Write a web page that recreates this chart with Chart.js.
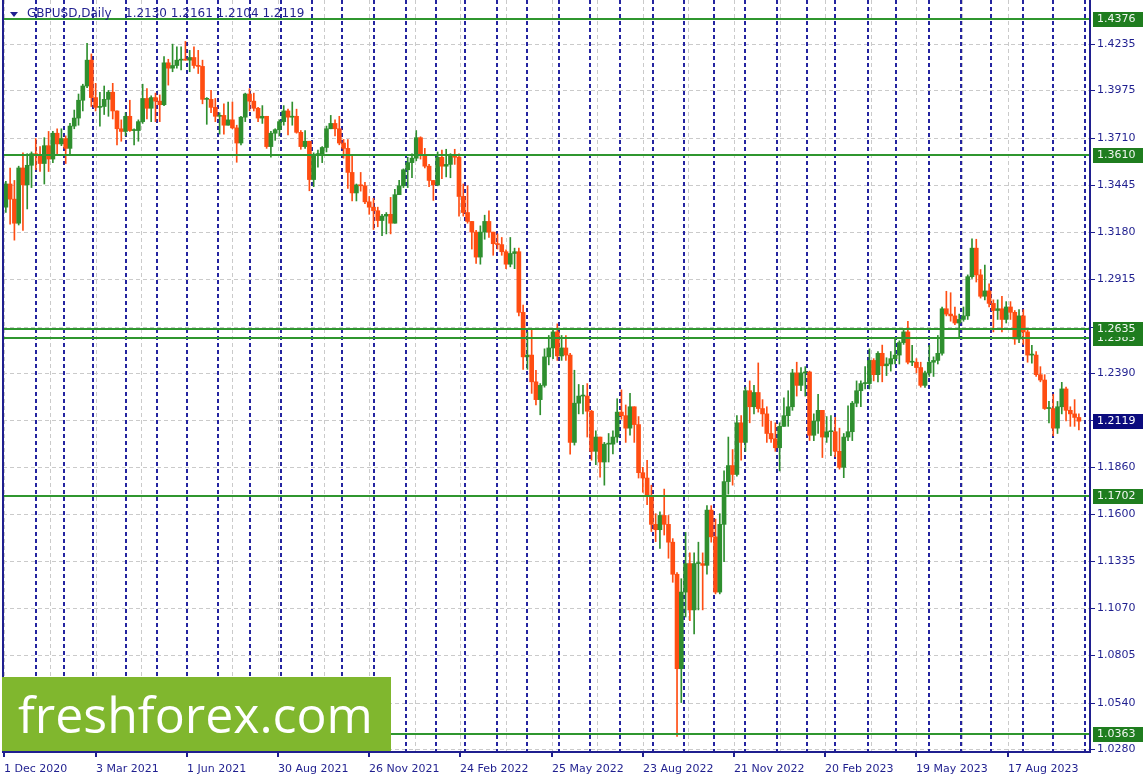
<!DOCTYPE html>
<html><head><meta charset="utf-8">
<script src="https://cdn.jsdelivr.net/npm/chart.js@4.4.0/dist/chart.umd.min.js"></script>
<style>html,body{margin:0;padding:0;background:#fff;overflow:hidden}canvas{display:block}</style>
</head><body>
<canvas id="c" width="1148" height="782"></canvas>
<script>
// ---------- DATA ----------
const symbol = 'GBPUSD', timeframe = 'Daily';
const lastBar = [1.2130, 1.2161, 1.2104, 1.2119];   // O H L C shown in header
const firstOpen = 1.3320;
// each candle = 3 trading days, starting 1 Dec 2020
const closes = [
1.3450,1.3365,1.3230,1.3540,1.3445,1.3555,1.3620,1.3610,1.3565,1.3665,
1.3590,1.3735,1.3675,1.3705,1.3650,1.3775,1.3820,1.3920,1.4000,1.4145,
1.3935,1.3880,1.3885,1.3925,1.3965,1.3860,1.3760,1.3745,1.3830,1.3750,
1.3750,1.3800,1.3930,1.3875,1.3935,1.3915,1.3895,1.4130,1.4100,1.4115,
1.4145,1.4150,1.4145,1.4160,1.4115,1.4110,1.3925,1.3925,1.3880,1.3830,
1.3835,1.3780,1.3810,1.3765,1.3680,1.3825,1.3955,1.3915,1.3875,1.3820,
1.3830,1.3660,1.3735,1.3755,1.3800,1.3860,1.3825,1.3830,1.3740,1.3660,
1.3690,1.3475,1.3615,1.3615,1.3655,1.3760,1.3790,1.3760,1.3680,1.3650,
1.3515,1.3400,1.3445,1.3440,1.3350,1.3320,1.3300,1.3245,1.3270,1.3280,
1.3230,1.3390,1.3440,1.3530,1.3570,1.3595,1.3710,1.3610,1.3550,1.3470,
1.3445,1.3600,1.3550,1.3560,1.3610,1.3600,1.3380,1.3290,1.3240,1.3180,
1.3040,1.3180,1.3240,1.3180,1.3115,1.3110,1.3070,1.3000,1.3060,1.3070,
1.2730,1.2480,1.2490,1.2340,1.2240,1.2320,1.2480,1.2530,1.2620,1.2485,
1.2530,1.2490,1.2000,1.2220,1.2260,1.2260,1.2175,1.1950,1.2030,1.1890,
1.1990,1.1990,1.2030,1.2170,1.2150,1.2080,1.2200,1.2100,1.1830,1.1800,
1.1700,1.1540,1.1510,1.1590,1.1540,1.1440,1.1260,1.0730,1.1160,1.1320,
1.1060,1.1320,1.1320,1.1310,1.1620,1.1470,1.1160,1.1540,1.1780,1.1870,
1.1820,1.2110,1.2000,1.2290,1.2200,1.2280,1.2190,1.2160,1.2050,1.2020,
1.1970,1.2090,1.2150,1.2200,1.2390,1.2320,1.2390,1.2395,1.2040,1.2120,
1.2180,1.2030,1.2060,1.2060,1.1950,1.1860,1.2030,1.2060,1.2220,1.2290,
1.2330,1.2330,1.2460,1.2380,1.2500,1.2430,1.2440,1.2470,1.2490,1.2560,
1.2620,1.2450,1.2450,1.2420,1.2320,1.2390,1.2450,1.2460,1.2500,1.2750,
1.2720,1.2710,1.2670,1.2690,1.2710,1.2930,1.3090,1.2940,1.2820,1.2850,
1.2780,1.2740,1.2750,1.2690,1.2760,1.2730,1.2580,1.2710,1.2620,1.2490,
1.2490,1.2380,1.2350,1.2190,1.2190,1.2080,1.2200,1.2300,1.2180,1.2160,
1.2140,1.2119];
const highs = [
1.3465,1.3540,1.3470,1.3550,1.3625,1.3620,1.3630,1.3705,1.3660,1.3710,
1.3745,1.3745,1.3760,1.3760,1.3720,1.3790,1.3865,1.3955,1.4010,1.4240,
1.4180,1.4015,1.3965,1.4000,1.3975,1.4015,1.3860,1.3810,1.3850,1.3920,
1.3760,1.3810,1.4010,1.3985,1.3945,1.3960,1.3950,1.4165,1.4150,1.4235,
1.4220,1.4220,1.4250,1.4200,1.4220,1.4200,1.4145,1.3935,1.3975,1.3930,
1.3850,1.3900,1.3910,1.3910,1.3780,1.3830,1.3960,1.3985,1.3960,1.3880,
1.3890,1.3830,1.3745,1.3760,1.3810,1.3890,1.3870,1.3910,1.3870,1.3750,
1.3750,1.3690,1.3625,1.3640,1.3660,1.3775,1.3835,1.3810,1.3830,1.3700,
1.3700,1.3610,1.3450,1.3515,1.3460,1.3380,1.3370,1.3320,1.3280,1.3290,
1.3375,1.3420,1.3470,1.3535,1.3600,1.3620,1.3750,1.3715,1.3650,1.3560,
1.3470,1.3630,1.3640,1.3645,1.3620,1.3645,1.3620,1.3450,1.3440,1.3240,
1.3190,1.3215,1.3275,1.3300,1.3180,1.3170,1.3150,1.3080,1.3150,1.3090,
1.3090,1.2770,1.2620,1.2640,1.2405,1.2330,1.2525,1.2600,1.2640,1.2665,
1.2600,1.2600,1.2500,1.2405,1.2325,1.2320,1.2330,1.2180,1.2065,1.2030,
1.2000,1.2050,1.2065,1.2245,1.2295,1.2210,1.2275,1.2200,1.2145,1.1860,
1.1900,1.1760,1.1600,1.1610,1.1738,1.1590,1.1460,1.1270,1.1235,1.1495,
1.1380,1.1380,1.1440,1.1380,1.1645,1.1645,1.1570,1.1600,1.1840,1.2030,
1.1960,1.2150,1.2150,1.2310,1.2345,1.2320,1.2446,1.2240,1.2200,1.2120,
1.2110,1.2110,1.2250,1.2290,1.2410,1.2450,1.2420,1.2425,1.2400,1.2160,
1.2270,1.2180,1.2145,1.2150,1.2140,1.2080,1.2050,1.2205,1.2230,1.2345,
1.2345,1.2425,1.2525,1.2470,1.2510,1.2546,1.2475,1.2510,1.2585,1.2570,
1.2640,1.2680,1.2545,1.2470,1.2450,1.2400,1.2545,1.2480,1.2600,1.2760,
1.2848,1.2840,1.2760,1.2720,1.2760,1.2940,1.3142,1.3140,1.2970,1.2995,
1.2890,1.2800,1.2800,1.2820,1.2790,1.2790,1.2740,1.2745,1.2745,1.2630,
1.2545,1.2510,1.2425,1.2380,1.2230,1.2270,1.2230,1.2337,1.2310,1.2200,
1.2240,1.2160];
const lows = [
1.3290,1.3225,1.3135,1.3220,1.3190,1.3310,1.3430,1.3530,1.3520,1.3450,
1.3520,1.3570,1.3620,1.3665,1.3565,1.3620,1.3760,1.3780,1.3860,1.3990,
1.3885,1.3860,1.3775,1.3840,1.3830,1.3815,1.3670,1.3690,1.3720,1.3745,
1.3670,1.3690,1.3790,1.3815,1.3800,1.3800,1.3800,1.3890,1.4005,1.4080,
1.4100,1.4090,1.4150,1.4080,1.4100,1.4070,1.3900,1.3785,1.3850,1.3800,
1.3730,1.3730,1.3780,1.3760,1.3572,1.3670,1.3800,1.3860,1.3860,1.3800,
1.3790,1.3650,1.3600,1.3695,1.3720,1.3780,1.3725,1.3780,1.3735,1.3645,
1.3650,1.3412,1.3435,1.3545,1.3570,1.3630,1.3770,1.3720,1.3670,1.3595,
1.3425,1.3355,1.3355,1.3410,1.3340,1.3280,1.3195,1.3210,1.3160,1.3170,
1.3170,1.3230,1.3390,1.3430,1.3430,1.3485,1.3580,1.3590,1.3540,1.3435,
1.3358,1.3440,1.3480,1.3490,1.3485,1.3560,1.3270,1.3270,1.3230,1.3085,
1.3005,1.3000,1.3140,1.3150,1.3050,1.3085,1.3050,1.2975,1.2985,1.2975,
1.2710,1.2410,1.2410,1.2275,1.2210,1.2155,1.2310,1.2435,1.2470,1.2460,
1.2460,1.2460,1.1934,1.1985,1.2160,1.2160,1.2030,1.1900,1.1875,1.1805,
1.1760,1.1890,1.1935,1.2000,1.2130,1.2000,1.2040,1.2000,1.1800,1.1720,
1.1650,1.1500,1.1443,1.1405,1.1480,1.1350,1.1215,1.0350,1.0540,1.1020,
1.1000,1.0925,1.1060,1.1060,1.1260,1.1440,1.1150,1.1150,1.1330,1.1710,
1.1760,1.1810,1.1900,1.1950,1.2110,1.2160,1.2170,1.2090,1.2000,1.2000,
1.1950,1.1840,1.2100,1.2090,1.2180,1.2260,1.2290,1.2260,1.2010,1.2010,
1.2050,1.1915,1.2000,1.1925,1.1920,1.1850,1.1802,1.2010,1.2010,1.2200,
1.2200,1.2300,1.2300,1.2345,1.2340,1.2340,1.2375,1.2400,1.2440,1.2440,
1.2550,1.2440,1.2430,1.2390,1.2310,1.2308,1.2370,1.2370,1.2440,1.2490,
1.2710,1.2680,1.2660,1.2590,1.2680,1.2690,1.2920,1.2900,1.2810,1.2800,
1.2760,1.2620,1.2690,1.2620,1.2670,1.2690,1.2550,1.2560,1.2550,1.2450,
1.2445,1.2370,1.2340,1.2185,1.2110,1.2037,1.2050,1.2160,1.2120,1.2090,
1.2090,1.2070];
const levels = [1.4376, 1.3610, 1.2585, 1.2635, 1.1702, 1.0363];
const yTicks = [1.4235,1.3975,1.3710,1.3445,1.3180,1.2915,1.2650,1.2390,1.2125,1.1860,1.1600,1.1335,1.1070,1.0805,1.0540,1.0280];
const xTickLabels = ['1 Dec 2020','3 Mar 2021','1 Jun 2021','30 Aug 2021','26 Nov 2021','24 Feb 2022','25 May 2022','23 Aug 2022','21 Nov 2022','20 Feb 2023','19 May 2023','17 Aug 2023'];
const holidays = ['2020-12-25','2021-01-01','2023-01-02'];
const brand = 'freshforex.com';

// ---------- LAYOUT / STYLE ----------
const BARS_PER_CANDLE = 3, LABEL_STEP = 64, GRID_STEP = 32;
const X_MIN = -1, X_MAX = 761.1, Y_MIN = 1.02626, Y_MAX = 1.44826;
const BULL = '#2f8f2f', BEAR = '#ff4d12', NAVY = '#1f1f8f';

const opens = closes.map((c, i) => i === 0 ? firstOpen : closes[i - 1]);
const colors = closes.map((c, i) => c >= opens[i] ? BULL : BEAR);
const xOf = i => i * BARS_PER_CANDLE + 1;
const wickData = closes.map((c, i) => ({x: xOf(i), y: [Math.min(lows[i], opens[i], c), Math.max(highs[i], opens[i], c)]}));
const bodyData = closes.map((c, i) => ({x: xOf(i), y: [opens[i], c]}));

// trading calendar -> month separators
const days = [];
for (let d = new Date(Date.UTC(2020, 11, 1)); d <= new Date(Date.UTC(2023, 11, 31)); d.setUTCDate(d.getUTCDate() + 1)) {
  const wd = d.getUTCDay(); if (wd === 0 || wd === 6) continue;
  const iso = d.toISOString().slice(0, 10); if (holidays.includes(iso)) continue;
  days.push(iso);
}
const monthStarts = [];
for (let i = 1; i < days.length; i++) if (days[i].slice(0, 7) !== days[i - 1].slice(0, 7)) monthStarts.push(i);

function hline(ctx, x1, x2, y) { ctx.beginPath(); ctx.moveTo(x1, y); ctx.lineTo(x2, y); ctx.stroke(); }
function vline(ctx, x, y1, y2) { ctx.beginPath(); ctx.moveTo(x, y1); ctx.lineTo(x, y2); ctx.stroke(); }

const deco = {
  id: 'deco',
  beforeDraw(chart) { const c = chart.ctx; c.save(); c.fillStyle = '#fff'; c.fillRect(0, 0, chart.width, chart.height); c.restore(); },
  beforeDatasetsDraw(chart) {
    const {ctx, chartArea: a, scales: {x, y}} = chart;
    ctx.save();
    ctx.beginPath(); ctx.rect(a.left, a.top, a.right - a.left, a.bottom - a.top); ctx.clip();
    ctx.strokeStyle = '#cacaca'; ctx.lineWidth = 1; ctx.setLineDash([4, 3]);
    yTicks.forEach(v => hline(ctx, a.left, a.right, Math.round(y.getPixelForValue(v)) + 0.5));
    for (let b = 0; b <= X_MAX; b += GRID_STEP) vline(ctx, Math.round(x.getPixelForValue(b)) + 0.5, a.top, a.bottom);
    ctx.strokeStyle = '#2424a0'; ctx.lineWidth = 2; ctx.setLineDash([4, 3]);
    monthStarts.forEach(b => { if (b < X_MAX) vline(ctx, Math.round(x.getPixelForValue(b)), a.top, a.bottom); });
    ctx.restore();
  },
  afterDatasetsDraw(chart) {
    const {ctx, chartArea: a, scales: {x, y}} = chart;
    ctx.save();
    // horizontal levels
    ctx.fillStyle = '#2f962f';
    levels.forEach(v => { const py = Math.round(y.getPixelForValue(v)); ctx.fillRect(a.left, py - 1, a.right - a.left, 2); });
    // frame
    ctx.fillStyle = NAVY;
    ctx.fillRect(a.left - 1, 0, 2, a.bottom);
    ctx.fillRect(a.left - 1, a.bottom - 1, a.right - a.left + 2, 2);
    ctx.fillRect(a.right, 0, 2, a.bottom + 1);
    // y labels
    ctx.font = '11px "DejaVu Sans"'; ctx.textBaseline = 'middle'; ctx.textAlign = 'left';
    yTicks.forEach(v => { const py = Math.round(y.getPixelForValue(v));
      ctx.fillStyle = NAVY; ctx.fillRect(a.right + 2, py, 4, 1); ctx.fillText(v.toFixed(4), a.right + 8, py + 0.5); });
    // level boxes
    levels.forEach(v => { const py = Math.round(y.getPixelForValue(v));
      ctx.fillStyle = '#1f7d1f'; ctx.fillRect(a.right + 4, py - 7, 50, 15);
      ctx.fillStyle = '#f2f7f2'; ctx.fillText(v.toFixed(4), a.right + 8, py + 0.5); });
    // last price box
    { const v = closes[closes.length - 1], py = Math.round(y.getPixelForValue(v));
      ctx.fillStyle = '#0b0b7e'; ctx.fillRect(a.right + 4, py - 7, 50, 15);
      ctx.fillStyle = '#ffffff'; ctx.fillText(v.toFixed(4), a.right + 8, py + 0.5); }
    // x labels
    ctx.fillStyle = NAVY;
    xTickLabels.forEach((t, i) => { const px = Math.round(x.getPixelForValue(i * LABEL_STEP));
      ctx.fillRect(px - 1, a.bottom, 2, 5); ctx.fillText(t, px, 769); });
    // title
    ctx.beginPath(); ctx.moveTo(10, 12); ctx.lineTo(18, 12); ctx.lineTo(14, 17); ctx.closePath(); ctx.fill();
    ctx.font = '12px "DejaVu Sans"';
    ctx.fillText(symbol + ',' + timeframe, 27, 14);
    ctx.fillText(lastBar.map(v => v.toFixed(4)).join(' '), 125, 14);
    // brand block
    ctx.fillStyle = '#80b72e'; ctx.fillRect(2, 677, 389, 74);
    ctx.fillStyle = '#ffffff'; ctx.textBaseline = 'alphabetic';
    ctx.font = '48px "Open Sans"';
    const w = ctx.measureText(brand).width, s = 355 / w;
    ctx.font = (48 * s).toFixed(1) + 'px "Open Sans"';
    ctx.fillText(brand, 18, 733);
    ctx.restore();
  }
};

new Chart(document.getElementById('c'), {
  type: 'bar',
  data: { datasets: [
    { data: wickData, backgroundColor: colors, barThickness: 1, grouped: false },
    { data: bodyData, backgroundColor: colors, barThickness: 4, grouped: false, minBarLength: 1 }
  ]},
  options: {
    responsive: false, animation: false, events: [],
    layout: { padding: { left: 3, top: 0, right: 59, bottom: 30 } },
    plugins: { legend: { display: false }, tooltip: { enabled: false } },
    scales: {
      x: { type: 'linear', display: false, min: X_MIN, max: X_MAX, offset: false },
      y: { type: 'linear', display: false, min: Y_MIN, max: Y_MAX }
    }
  },
  plugins: [deco]
});
</script>
</body></html>
